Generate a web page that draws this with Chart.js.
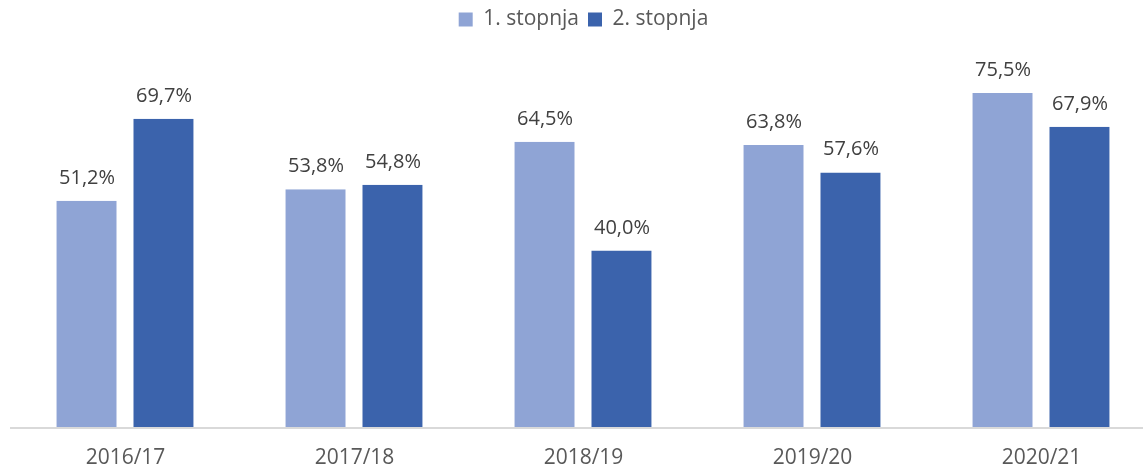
<!DOCTYPE html>
<html>
<head>
<meta charset="utf-8">
<script src="https://cdn.jsdelivr.net/npm/chart.js@4"></script>
<style>
  html, body { margin: 0; padding: 0; background: #fff; overflow: hidden; }
  #wrap { width: 1158px; height: 468px; }
</style>
</head>
<body>
<div id="wrap"><canvas id="chart"></canvas></div>
<script>
const years = ["2016/17", "2017/18", "2018/19", "2019/20", "2020/21"];
const stopnja1 = [51.2, 53.8, 64.5, 63.8, 75.5];
const stopnja2 = [69.7, 54.8, 40.0, 57.6, 67.9];
const seriesNames = ["1. stopnja", "2. stopnja"];

const FONT = "'Open Sans', 'Liberation Sans', sans-serif";

// value labels above bars
const barLabels = {
  id: "barLabels",
  afterDatasetsDraw(chart) {
    const ctx = chart.ctx;
    ctx.save();
    ctx.font = "20px " + FONT;
    ctx.fillStyle = "#404040";
    ctx.textAlign = "center";
    ctx.textBaseline = "alphabetic";
    chart.data.datasets.forEach((ds, i) => {
      chart.getDatasetMeta(i).data.forEach((bar, j) => {
        const txt = ds.data[j].toFixed(1).replace(".", ",") + "%";
        ctx.fillText(txt, bar.x, bar.y - 17);
      });
    });
    ctx.restore();
  },
};

// fixed legend height so the plot top lines up
const legendHeight = {
  id: "legendHeight",
  beforeInit(chart) {
    const fit = chart.legend.fit;
    chart.legend.fit = function () {
      fit.call(this);
      this.height = 73;
    };
  },
};

new Chart(document.getElementById("chart"), {
  type: "bar",
  data: {
    labels: years,
    datasets: [
      {
        label: seriesNames[0],
        data: stopnja1,
        backgroundColor: "#8FA4D5",
        borderColor: "#ffffff",
        borderWidth: { left: 8, right: 9, top: 0, bottom: 0 },
        categoryPercentage: 0.672,
        barPercentage: 1,
      },
      {
        label: seriesNames[1],
        data: stopnja2,
        backgroundColor: "#3B63AC",
        borderColor: "#ffffff",
        borderWidth: { left: 8, right: 9, top: 0, bottom: 0 },
        categoryPercentage: 0.672,
        barPercentage: 1,
      },
    ],
  },
  options: {
    responsive: true,
    maintainAspectRatio: false,
    animation: false,
    events: [],
    layout: { padding: { left: 11, right: 2, top: 0, bottom: 0 } },
    plugins: {
      tooltip: { enabled: false },
      legend: {
        position: "top",
        labels: {
          font: { family: FONT, size: 21 },
          color: "#595959",
          boxWidth: 14,
          boxHeight: 14,
          padding: 9,
          generateLabels(chart) {
            return chart.data.datasets.map((ds, i) => ({
              text: ds.label,
              fillStyle: ds.backgroundColor,
              strokeStyle: ds.backgroundColor,
              lineWidth: 0,
              fontColor: "#595959",
              datasetIndex: i,
            }));
          },
        },
      },
    },
    scales: {
      x: {
        grid: { display: false },
        border: { display: true, color: "#d9d9d9", width: 2, z: 1 },
        ticks: {
          font: { family: FONT, size: 21 },
          color: "#595959",
          padding: 9,
          maxRotation: 0,
        },
        afterFit(scale) {
          scale.height = 40;
        },
      },
      y: {
        display: false,
        min: 0,
        max: 80,
      },
    },
  },
  plugins: [barLabels, legendHeight],
});
</script>
</body>
</html>
